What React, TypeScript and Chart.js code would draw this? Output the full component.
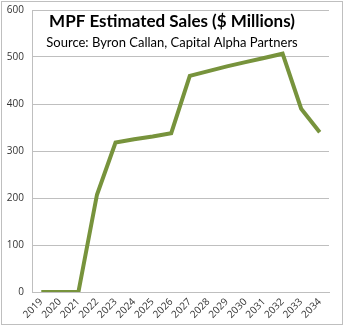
import React, { useEffect, useRef } from "react";
import { Chart, registerables } from "chart.js";
Chart.register(...registerables);

const years = ["2019","2020","2021","2022","2023","2024","2025","2026","2027","2028","2029","2030","2031","2032","2033","2034"];
const sales = [0, 0, 0, 207, 318, 325, 331, 338, 460, 470, 480, 489, 498, 507, 390, 340];
const titleText = "MPF Estimated Sales ($ Millions)";
const subtitleText = "Source: Byron Callan, Capital Alpha Partners";

const FONT = "Lato, 'Open Sans', sans-serif";

export default function App() {
  const ref = useRef<HTMLCanvasElement>(null);
  useEffect(() => {
    document.body.style.margin = "0";
    const overlay = {
      id: "overlay",
      beforeDraw(chart: any) {
        const ctx = chart.ctx;
        ctx.save();
        ctx.fillStyle = "#ffffff";
        ctx.fillRect(0, 0, chart.width, chart.height);
        ctx.strokeStyle = "#bfbfbf";
        ctx.lineWidth = 1;
        ctx.strokeRect(1.5, 1.5, chart.width - 3, chart.height - 4);
        ctx.restore();
      },
      afterDraw(chart: any) {
        const ctx = chart.ctx;
        ctx.save();
        ctx.fillStyle = "#000000";
        ctx.textAlign = "center";
        ctx.textBaseline = "middle";
        ctx.font = "bold 17px " + FONT;
        ctx.fillText(titleText, 172, 22);
        ctx.font = "13px " + FONT;
        ctx.fillText(subtitleText, 172, 43);
        ctx.restore();
      },
    };
    const chart = new Chart(ref.current!, {
      type: "line",
      data: {
        labels: years,
        datasets: [{
          data: sales,
          borderColor: "#77933c",
          borderWidth: 4,
          pointRadius: 0,
          tension: 0,
          fill: false,
        }],
      },
      options: {
        animation: false,
        responsive: false,
        layout: { padding: { top: 10, right: 15, left: 0, bottom: 0 } },
        plugins: { legend: { display: false }, tooltip: { enabled: false } },
        scales: {
          x: {
            offset: true,
            grid: { display: false, drawTicks: false },
            border: { color: "#bfbfbf", width: 1 },
            ticks: { color: "#333", font: { size: 10, family: "'Open Sans', sans-serif" }, minRotation: 45, maxRotation: 45, padding: 4, autoSkip: false },
            afterFit: (s: any) => { s.height = 35; s.paddingLeft = 0; s.paddingRight = 0; },
          },
          y: {
            min: 0, max: 600,
            grid: { color: "#bfbfbf", drawTicks: false },
            border: { color: "#bfbfbf", width: 1 },
            ticks: { stepSize: 100, color: "#333", font: { size: 10, family: "'Open Sans', sans-serif" }, padding: 8 },
            afterFit: (s: any) => { s.width = 32; s.paddingTop = 0; s.paddingBottom = 0; },
          },
        },
      },
      plugins: [overlay],
    });
    return () => chart.destroy();
  }, []);
  return <canvas ref={ref} width={344} height={327} style={{ display: "block" }} />;
}
